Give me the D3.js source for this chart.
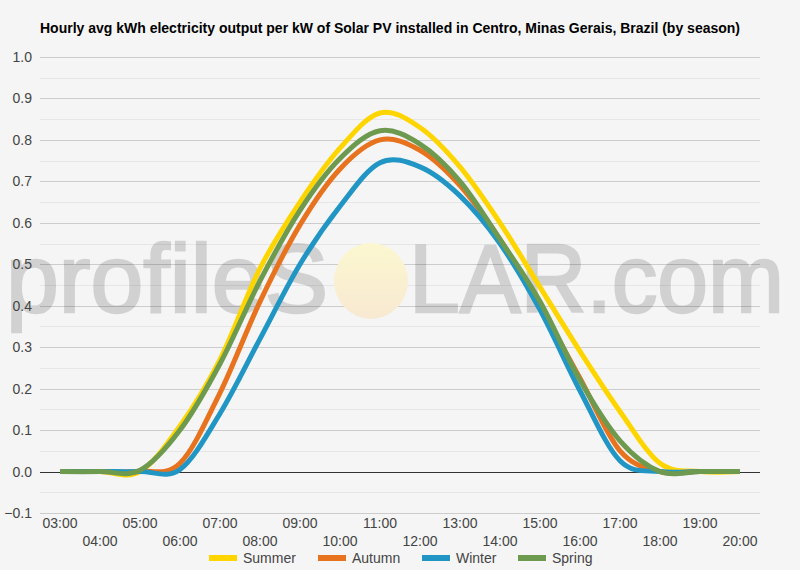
<!DOCTYPE html>
<html>
<head>
<meta charset="utf-8">
<script src="https://cdn.jsdelivr.net/npm/d3@7"></script>
<style>
  body { margin: 0; background: #f5f5f5; }
  text { font-family: "Liberation Sans", Arial, sans-serif; }
</style>
</head>
<body>
<div id="chart"></div>
<script>
// hourly data, 03:00 .. 20:00
var hours = ["03:00","04:00","05:00","06:00","07:00","08:00","09:00","10:00","11:00",
  "12:00","13:00","14:00","15:00","16:00","17:00","18:00","19:00","20:00"];
var seasons = ["Summer", "Autumn", "Winter", "Spring"];
var colors = ["#ffd500", "#e8731f", "#2196c4", "#6e9a4f"];

var summer = [0, 0, 0, 0.11, 0.27, 0.49, 0.65, 0.78, 0.865, 0.83, 0.735, 0.60, 0.445, 0.29, 0.145, 0.02, 0, 0];
var autumn = [0, 0, 0, 0.02, 0.19, 0.41, 0.595, 0.73, 0.80, 0.775, 0.69, 0.56, 0.40, 0.225, 0.05, 0, 0, 0];
var winter = [0, 0, 0, 0.005, 0.14, 0.32, 0.50, 0.64, 0.745, 0.735, 0.665, 0.55, 0.39, 0.195, 0.026, 0, 0, 0];
var spring = [0, 0, 0.003, 0.10, 0.26, 0.46, 0.63, 0.755, 0.822, 0.79, 0.70, 0.56, 0.41, 0.22, 0.074, 0, 0, 0];

var yTicks = [-0.1, 0, 0.1, 0.2, 0.3, 0.4, 0.5, 0.6, 0.7, 0.8, 0.9, 1.0];
var title = "Hourly avg kWh electricity output per kW of Solar PV installed in Centro, Minas Gerais, Brazil (by season)";

var series = [summer, autumn, winter, spring];

var width = 800, height = 570;
var margin = {top: 57, right: 40, bottom: 58, left: 40};

var svg = d3.select("#chart").append("svg")
  .attr("width", width)
  .attr("height", height);

svg.append("rect")
  .attr("width", width)
  .attr("height", height)
  .attr("fill", "#f5f5f5");

var x = d3.scaleBand()
  .domain(hours)
  .range([margin.left, width - margin.right]);

var y = d3.scaleLinear()
  .domain([-0.1, 1.0])
  .range([height - margin.bottom + 1, margin.top]);

// minor gridlines
svg.append("g")
  .selectAll("line")
  .data(d3.range(-0.05, 1.0, 0.1))
  .enter().append("line")
  .attr("x1", margin.left)
  .attr("x2", width - margin.right)
  .attr("y1", function(d) { return Math.round(y(d)) + 0.5; })
  .attr("y2", function(d) { return Math.round(y(d)) + 0.5; })
  .attr("stroke", "#e6e6e6");

// major gridlines
svg.append("g")
  .selectAll("line")
  .data(yTicks)
  .enter().append("line")
  .attr("x1", margin.left)
  .attr("x2", width - margin.right)
  .attr("y1", function(d) { return Math.round(y(d)) + 0.5; })
  .attr("y2", function(d) { return Math.round(y(d)) + 0.5; })
  .attr("stroke", function(d) { return d === 0 ? "#333" : "#ccc"; });

// watermark
var defs = svg.append("defs");
var sunGrad = defs.append("linearGradient")
  .attr("id", "sun")
  .attr("x1", 0).attr("y1", 0).attr("x2", 0).attr("y2", 1);
sunGrad.append("stop").attr("offset", "0%").attr("stop-color", "#fbf7cf");
sunGrad.append("stop").attr("offset", "100%").attr("stop-color", "#f8e9d2");

var wm = svg.append("g").attr("opacity", 0.14);
wm.append("text")
  .attr("x", 6)
  .attr("y", 312)
  .attr("textLength", 322)
  .attr("lengthAdjust", "spacingAndGlyphs")
  .style("font-size", "96px")
  .attr("fill", "#000")
  .attr("stroke", "#000")
  .attr("stroke-width", 2.5)
  .text("profileS");
wm.append("text")
  .attr("x", 409)
  .attr("y", 312)
  .attr("textLength", 375)
  .attr("lengthAdjust", "spacingAndGlyphs")
  .style("font-size", "96px")
  .attr("fill", "#000")
  .attr("stroke", "#000")
  .attr("stroke-width", 2.5)
  .text("LAR.com");

svg.append("ellipse")
  .attr("cx", 371)
  .attr("cy", 281)
  .attr("rx", 37)
  .attr("ry", 38)
  .attr("fill", "url(#sun)");

// y axis labels
svg.append("g")
  .selectAll("text")
  .data(yTicks)
  .enter().append("text")
  .attr("x", 32)
  .attr("y", function(d) { return y(d); })
  .attr("dy", "0.36em")
  .attr("text-anchor", "end")
  .style("font-size", "14px")
  .attr("fill", "#444")
  .text(function(d) { return d3.format(".1f")(d); });

// x axis labels, staggered
svg.append("g")
  .selectAll("text")
  .data(hours)
  .enter().append("text")
  .attr("x", function(d) { return x(d) + x.bandwidth() / 2; })
  .attr("y", function(d, i) { return i % 2 === 0 ? 528 : 546; })
  .attr("text-anchor", "middle")
  .style("font-size", "14px")
  .attr("fill", "#444")
  .text(function(d) { return d; });

// lines
var line = d3.line()
  .x(function(d, i) { return x(hours[i]) + x.bandwidth() / 2; })
  .y(function(d) { return y(d); })
  .curve(d3.curveCatmullRom.alpha(0));

svg.append("g")
  .selectAll("path")
  .data(series)
  .enter().append("path")
  .attr("d", line)
  .attr("fill", "none")
  .attr("stroke", function(d, i) { return colors[i]; })
  .attr("stroke-width", 5)
  .attr("stroke-linejoin", "round");

// title
svg.append("text")
  .attr("x", 40)
  .attr("y", 33)
  .attr("textLength", 700)
  .attr("lengthAdjust", "spacingAndGlyphs")
  .style("font-size", "14px")
  .style("font-weight", "bold")
  .attr("fill", "#000")
  .text(title);

// legend
var legendX = [209, 318, 422, 518];
var legend = svg.append("g")
  .selectAll("g")
  .data(seasons)
  .enter().append("g")
  .attr("transform", function(d, i) { return "translate(" + legendX[i] + ",558)"; });

legend.append("rect")
  .attr("x", 0)
  .attr("y", -3)
  .attr("width", 28)
  .attr("height", 6)
  .attr("fill", function(d, i) { return colors[i]; });

legend.append("text")
  .attr("x", 34)
  .attr("dy", "0.36em")
  .style("font-size", "14px")
  .attr("fill", "#444")
  .text(function(d) { return d; });
</script>
</body>
</html>
